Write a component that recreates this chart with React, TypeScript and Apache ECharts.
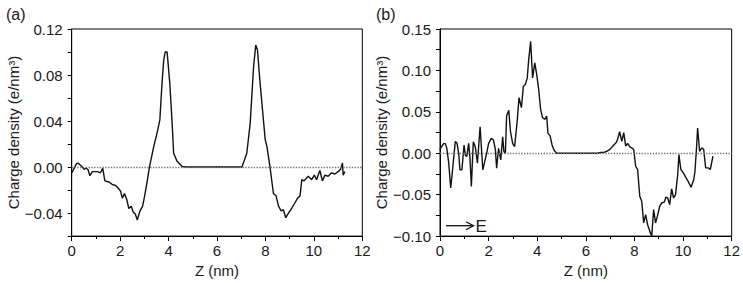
import React, { useEffect, useRef } from "react";
import * as echarts from "echarts";

// Panel (a)
const zA = [0, 0.2, 0.26, 0.44, 0.51, 0.58, 0.67, 0.75, 0.85, 0.96, 1.06, 1.19, 1.28, 1.37, 1.54, 1.67, 1.81, 1.91, 2.02, 2.09, 2.18, 2.27, 2.36, 2.46, 2.54, 2.63, 2.71, 2.82, 2.93, 3.03, 3.12, 3.21, 3.39, 3.53, 3.64, 3.73, 3.8, 3.86, 3.94, 4.05, 4.14, 4.21, 4.35, 4.56, 4.76, 5.5, 6.5, 7.03, 7.09, 7.23, 7.37, 7.51, 7.6, 7.67, 7.78, 7.99, 8.06, 8.19, 8.33, 8.44, 8.54, 8.65, 8.74, 8.84, 8.95, 9.08, 9.22, 9.33, 9.43, 9.5, 9.59, 9.7, 9.77, 9.91, 10.02, 10.11, 10.25, 10.35, 10.46, 10.59, 10.73, 10.87, 11.0, 11.1, 11.18, 11.21, 11.28];
const rhoA = [-0.005, 0.003, 0.0035, 0, -0.002, -0.001, -0.002, -0.0075, -0.004, -0.004, -0.004, -0.005, -0.001, -0.012, -0.013, -0.015, -0.016, -0.018, -0.021, -0.027, -0.023, -0.028, -0.036, -0.034, -0.039, -0.041, -0.046, -0.038, -0.034, -0.023, -0.012, 0, 0.018, 0.03, 0.041, 0.073, 0.093, 0.1, 0.1, 0.073, 0.041, 0.012, 0.005, 0.0005, 0, 0, 0, 0, 0.0035, 0.012, 0.038, 0.087, 0.106, 0.102, 0.073, 0.024, 0.018, 0, -0.023, -0.025, -0.034, -0.038, -0.037, -0.044, -0.04, -0.036, -0.031, -0.027, -0.025, -0.011, -0.012, -0.0095, -0.008, -0.011, -0.007, -0.011, -0.003, -0.012, -0.007, -0.008, -0.005, -0.006, -0.004, -0.002, 0.0035, -0.007, -0.004];

// Panel (b)
const zB = [0, 0.03, 0.15, 0.22, 0.28, 0.36, 0.44, 0.53, 0.63, 0.7, 0.77, 0.82, 0.9, 0.99, 1.04, 1.1, 1.18, 1.23, 1.29, 1.37, 1.45, 1.54, 1.65, 1.76, 1.84, 1.92, 2.0, 2.11, 2.2, 2.28, 2.33, 2.41, 2.5, 2.58, 2.63, 2.69, 2.74, 2.83, 2.9, 2.99, 3.07, 3.18, 3.25, 3.35, 3.43, 3.51, 3.59, 3.65, 3.73, 3.81, 3.9, 3.98, 4.06, 4.14, 4.22, 4.31, 4.39, 4.44, 4.53, 4.61, 4.69, 4.79, 5.5, 6.5, 6.6, 6.74, 6.87, 7.0, 7.15, 7.25, 7.31, 7.39, 7.48, 7.56, 7.64, 7.72, 7.81, 7.89, 7.97, 8.05, 8.13, 8.22, 8.3, 8.38, 8.46, 8.54, 8.63, 8.71, 8.79, 8.87, 8.96, 9.04, 9.12, 9.23, 9.29, 9.37, 9.45, 9.53, 9.61, 9.69, 9.78, 9.83, 9.91, 10.02, 10.13, 10.21, 10.33, 10.44, 10.49, 10.55, 10.6, 10.68, 10.77, 10.85, 10.93, 11.04, 11.12, 11.23];
const rhoB = [0.004, 0.0064, 0.0116, 0.0116, 0.006, -0.012, -0.042, -0.016, 0.0144, 0.012, 0, -0.02, -0.02, 0.01, -0.002, -0.004, 0.012, -0.004, -0.04, 0.014, 0.008, -0.012, 0.032, -0.02, -0.01, 0, 0.012, 0.018, 0.016, 0.004, -0.018, 0.006, -0.008, 0.02, 0.002, 0, 0.045, 0.052, 0.026, 0.012, 0.008, 0.04, 0.067, 0.055, 0.081, 0.083, 0.091, 0.113, 0.135, 0.091, 0.109, 0.095, 0.077, 0.053, 0.043, 0.041, 0.045, 0.024, 0.021, 0.01, 0.004, 0, 0, 0, 0.001, 0.001, 0.0024, 0.005, 0.01, 0.013, 0.017, 0.026, 0.0145, 0.025, 0.0085, 0.012, 0.0077, 0.0065, 0.0045, -0.0156, -0.0196, -0.052, -0.058, -0.084, -0.074, -0.086, -0.094, -0.1, -0.068, -0.084, -0.074, -0.064, -0.06, -0.059, -0.053, -0.054, -0.062, -0.043, -0.054, -0.05, -0.026, -0.0016, -0.0196, -0.024, -0.03, -0.034, -0.041, -0.032, -0.022, 0.0045, 0.0305, 0.0024, 0.0065, 0.0045, -0.0177, -0.0177, -0.0196, -0.0036];

const xTicks = [0, 2, 4, 6, 8, 10, 12];
const panelTitles = ["(a)", "(b)"];
const yName = "Charge density (e/nm\u00b3)";
const xName = "Z (nm)";
const fieldLabel = "E";

const FONT = "'Liberation Sans', Arial, Helvetica, sans-serif";
const TXT = "#1a1a1a";

function fmtY(step: number) {
  return (v: number) => {
    const k = Math.round(v / step);
    if (k % 2 !== 0) return "";
    const val = k * step;
    if (Math.abs(val) < 1e-9) return "0.00";
    return (val < 0 ? "\u2212" : "") + Math.abs(val).toFixed(2);
  };
}

function xAxisCfg(gridIndex: number) {
  return {
    type: "value",
    gridIndex,
    min: 0,
    max: 12,
    interval: 2,
    name: xName,
    nameLocation: "middle",
    nameGap: 22,
    nameTextStyle: { fontSize: 15, color: TXT, fontFamily: FONT },
    axisLine: { show: true, onZero: false, lineStyle: { color: "#000", width: 1 } },
    axisTick: { show: true, inside: false, length: 5, lineStyle: { color: "#000" } },
    minorTick: { show: true, splitNumber: 2, length: 3, lineStyle: { color: "#000" } },
    axisLabel: {
      fontSize: 15,
      color: TXT,
      fontFamily: FONT,
      margin: 7,
      formatter: (v: number) => (xTicks.includes(v) ? String(v) : ""),
    },
    splitLine: { show: false },
    minorSplitLine: { show: false },
  };
}

function yAxisCfg(gridIndex: number, min: number, max: number, step: number) {
  return {
    type: "value",
    gridIndex,
    min,
    max,
    interval: step,
    name: yName,
    nameLocation: "middle",
    nameGap: 40,
    nameTextStyle: { fontSize: 15, color: TXT, fontFamily: FONT },
    axisLine: { show: true, onZero: false, lineStyle: { color: "#000", width: 1 } },
    axisTick: { show: true, inside: false, length: 4, lineStyle: { color: "#000" } },
    axisLabel: {
      fontSize: 15,
      color: TXT,
      fontFamily: FONT,
      margin: 9,
      formatter: fmtY(step),
    },
    splitLine: { show: false },
  };
}

function seriesCfg(idx: number, zs: number[], ys: number[]) {
  return {
    type: "line",
    xAxisIndex: idx,
    yAxisIndex: idx,
    data: zs.map((z, i) => [z, ys[i]]),
    showSymbol: false,
    symbol: "none",
    lineStyle: { color: "#111", width: 1.4 },
    markLine: {
      silent: true,
      symbol: "none",
      label: { show: false },
      lineStyle: { color: "#777", type: "dotted", width: 1.4 },
      data: [{ yAxis: 0 }],
    },
  };
}

export default function App() {
  const ref = useRef<HTMLDivElement>(null);
  useEffect(() => {
    if (!ref.current) return;
    const chart = echarts.init(ref.current, null, { renderer: "svg" });
    chart.setOption({
      animation: false,
      backgroundColor: "#fff",
      textStyle: { fontFamily: FONT },
      grid: [
        { left: 71.7, top: 29, width: 290.6, height: 207.7, show: true, borderColor: "#000", borderWidth: 1, backgroundColor: "transparent" },
        { left: 440, top: 29, width: 291.7, height: 207.7, show: true, borderColor: "#000", borderWidth: 1, backgroundColor: "transparent" },
      ],
      xAxis: [xAxisCfg(0), xAxisCfg(1)],
      yAxis: [yAxisCfg(0, -0.06, 0.12, 0.02), yAxisCfg(1, -0.1, 0.15, 0.025)],
      series: [seriesCfg(0, zA, rhoA), seriesCfg(1, zB, rhoB)],
      graphic: [
        { type: "text", left: 6, top: 6, style: { text: panelTitles[0], fontSize: 16, fill: TXT, fontFamily: FONT } },
        { type: "text", left: 376, top: 6, style: { text: panelTitles[1], fontSize: 16, fill: TXT, fontFamily: FONT } },
        { type: "line", shape: { x1: 446, y1: 225.7, x2: 473, y2: 225.7 }, style: { stroke: "#111", lineWidth: 1.3 } },
        { type: "polyline", shape: { points: [[466, 221.7], [473.5, 225.7], [466, 229.7]] }, style: { stroke: "#111", lineWidth: 1.3, fill: null } },
        { type: "text", left: 475.5, top: 218, style: { text: fieldLabel, fontSize: 17, fill: TXT, fontFamily: FONT } },
      ],
    });
    return () => chart.dispose();
  }, []);
  return (
    <div
      ref={ref}
      style={{ position: "fixed", left: 0, top: 0, width: 743, height: 283, background: "#fff" }}
    />
  );
}
